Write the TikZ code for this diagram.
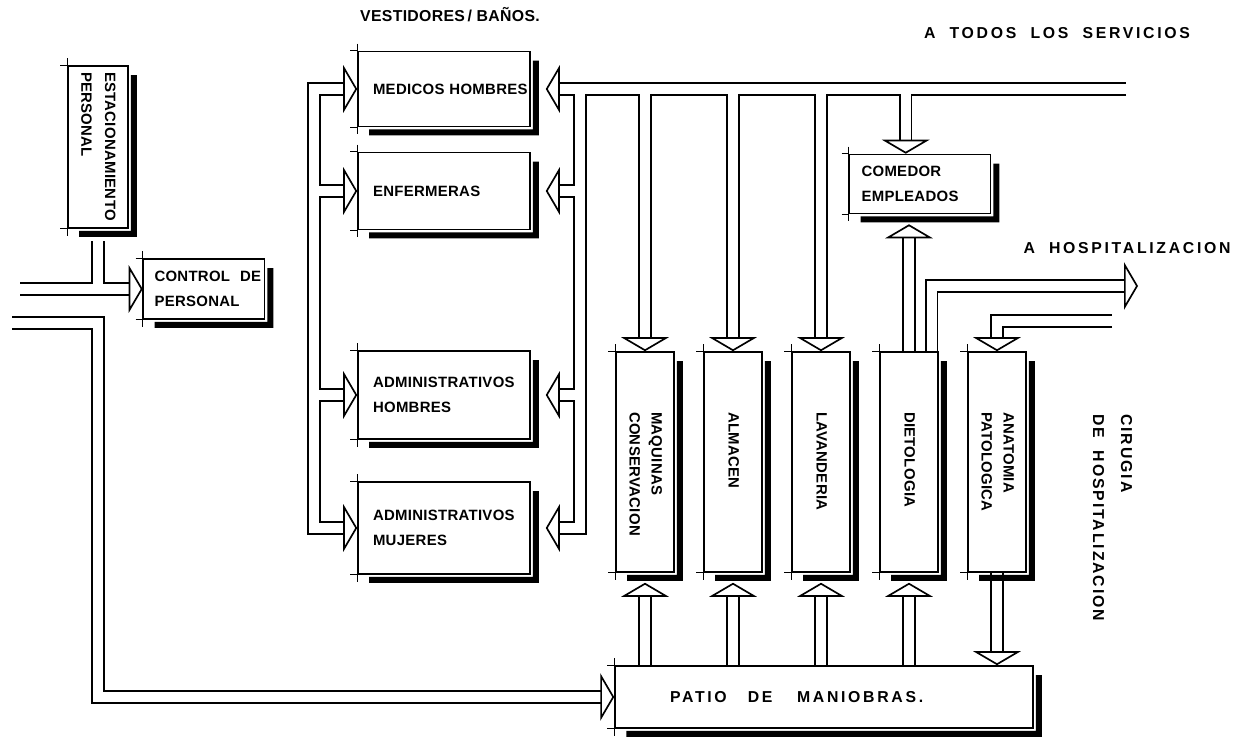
\documentclass[tikz,border=0pt]{standalone}
\usepackage{fontspec}
\setmainfont{Liberation Sans}
\newfontfamily\rotulo[LetterSpace=2]{Liberation Sans}
\newfontfamily\rotuloancho[LetterSpace=17]{Liberation Sans}
\usepackage{graphicx}
\usetikzlibrary{arrows.meta,calc,backgrounds}
\hyphenpenalty=10000
\exhyphenpenalty=10000

\newcommand{\textovert}[2]{\rotatebox{-90}{\begin{tabular}{@{}p{#1}@{}}#2\end{tabular}}}

\tikzset{
  caja/.style={draw, line width=0.9pt, inner sep=0pt, align=left,
    font=\rotulo\bfseries\fontsize{8.5}{14}\selectfont},
  cajav/.style={caja, minimum width=1.16cm, minimum height=4.4cm,
    font=\rotulo\bfseries\fontsize{8.5}{12.5}\selectfont},
  libre/.style={inner sep=0pt, font=\rotuloancho\bfseries\fontsize{9}{14}\selectfont},
  ducto/.style={line width=0.95pt, double distance=0.2cm,
    >={Triangle[open,length=0.28cm,width=0.95cm]}},
  rama/.style={ducto, shorten <=0.1cm},
  sombra/.style={fill=black},
  marca/.style={line width=0.6pt}
}

\begin{document}
\begin{tikzpicture}[x=0.02cm,y=-0.02cm]
\useasboundingbox (0,0) rectangle (1238,739);

\node[caja, minimum width=1.2cm, minimum height=3.24cm, font=\rotulo\bfseries\fontsize{8.5}{13.5}\selectfont]
(est)
at (98,147)
{\textovert{3cm}{ESTACIONAMIENTO\\PERSONAL}};

\node[caja, minimum width=2.42cm, minimum height=1.2cm, text width=1.98cm]
(ctrl)
at (204,289)
{CONTROL~~DE\\PERSONAL};

\node[libre, font=\rotulo\bfseries\fontsize{9}{14}\selectfont]
(vest)
at (450,15)
{VESTIDORES\,/ BAÑOS.};

\node[caja, minimum width=3.44cm, minimum height=1.5cm, text width=2.84cm]
(med)
at (444,89)
{\mbox{MEDICOS~HOMBRES}};

\node[caja, minimum width=3.44cm, minimum height=1.54cm, text width=2.84cm]
(enf)
at (444,191)
{ENFERMERAS};

\node[caja, minimum width=3.44cm, minimum height=1.76cm, text width=2.84cm]
(admh)
at (444,395)
{ADMINISTRATIVOS\\HOMBRES};

\node[caja, minimum width=3.44cm, minimum height=1.84cm, text width=2.84cm]
(admm)
at (444,528)
{ADMINISTRATIVOS\\MUJERES};

\node[caja, minimum width=2.82cm, minimum height=1.18cm, text width=2.34cm]
(com)
at (920,184)
{COMEDOR\\EMPLEADOS};

\node[cajav]
(maq)
at (645,462)
{\textovert{2cm}{MAQUINAS\\CONSERVACION}};

\node[cajav]
(alm)
at (733,462)
{\textovert{2cm}{ALMACEN}};

\node[cajav]
(lav)
at (821,462)
{\textovert{2cm}{LAVANDERIA}};

\node[cajav]
(die)
at (909,462)
{\textovert{2cm}{DIETOLOGIA}};

\node[cajav]
(ana)
at (997,462)
{\textovert{2cm}{ANATOMIA\\PATOLOGICA}};

\node[caja, minimum width=8.36cm, minimum height=1.24cm, text width=6.16cm, font=\rotuloancho\bfseries\fontsize{9}{14}\selectfont]
(patio)
at (824,697)
{PATIO\hspace{12pt}DE\hspace{14pt}MANIOBRAS.};

\node[libre]
(todos)
at (1057,33)
{A~~TODOS~~LOS~~SERVICIOS};

\node[libre]
(hosp)
at (1127,248)
{A~~HOSPITALIZACION};

\node[libre, anchor=north, font=\rotuloancho\bfseries\addfontfeature{LetterSpace=12}\fontsize{9}{14}\selectfont]
(cir)
at (1112,414)
{\rotatebox{-90}{\begin{tabular}{@{}l@{}}CIRUGIA\\[2pt]DE~~HOSPITALIZACION\end{tabular}}};

\coordinate (entrada) at (20,289);
\coordinate (acceso) at (12,323);
\coordinate (servicios) at (1126,89);
\coordinate (troncoder) at (580,89);
\coordinate (troncoizq) at (314,300);
\coordinate (bajacom) at ($(com.north west)+(57,0)$);
\coordinate (ahosp) at (1138,286);
\coordinate (decir) at (1112,321);

\begin{pgfonlayer}{background}
\draw[ducto,->] (entrada) -- (ctrl.west);
\draw[rama] (est.south |- entrada) -- ($(est.south)+(0,12)$);
\draw[ducto,->] (acceso) -| (est.south |- patio.west) -- (patio.west);

\draw[ducto,->,shorten >=0.3cm] (servicios) -- (med.east);
\draw[rama,->,shorten >=0.3cm] (troncoder) |- (admm.east);
\draw[rama,->,shorten >=0.3cm] (troncoder |- enf.east) -- (enf.east);
\draw[rama,->,shorten >=0.3cm] (troncoder |- admh.east) -- (admh.east);

\draw[ducto,<->] (med.west) -| (troncoizq) |- (admm.west);
\draw[rama,->] (troncoizq |- enf.west) -- (enf.west);
\draw[rama,->] (troncoizq |- admh.west) -- (admh.west);

\foreach \n in {maq,alm,lav}
  \draw[rama,->] (\n.north |- servicios) -- (\n.north);
\draw[rama,->] (bajacom |- servicios) -- (bajacom);

\draw[ducto,->,shorten >=0.2cm] (die.north) -- (die.north |- com.south);
\draw[ducto,->] ($(die.north east)+(-7,0)$) |- (ahosp);
\draw[ducto,->] (decir) -| (ana.north);
\draw[ducto,->] (ana.south) -- (ana.south |- patio.north);
\foreach \n in {maq,alm,lav,die}
  \draw[ducto,->,shorten >=0.2cm] (\n.south |- patio.north) -- (\n.south);
\end{pgfonlayer}

\foreach \n in {est,ctrl,med,enf,admh,admm,com,maq,alm,lav,die,ana,patio}
{
\fill[sombra] ($(\n.north east)+(2,10)$) -- ($(\n.north east)+(8,10)$) -- ($(\n.south east)+(8,8)$)
  -- ($(\n.south west)+(12,8)$) -- ($(\n.south west)+(12,2)$) -- ($(\n.south east)+(2,2)$) -- cycle;
\draw[marca] ($(\n.north west)+(0,-7)$) -- ($(\n.south west)+(0,7)$);
\draw[marca] ($(\n.north west)+(-7,0)$) -- (\n.north west);
\draw[marca] ($(\n.south west)+(-7,0)$) -- (\n.south west);
}

\end{tikzpicture}
\end{document}
